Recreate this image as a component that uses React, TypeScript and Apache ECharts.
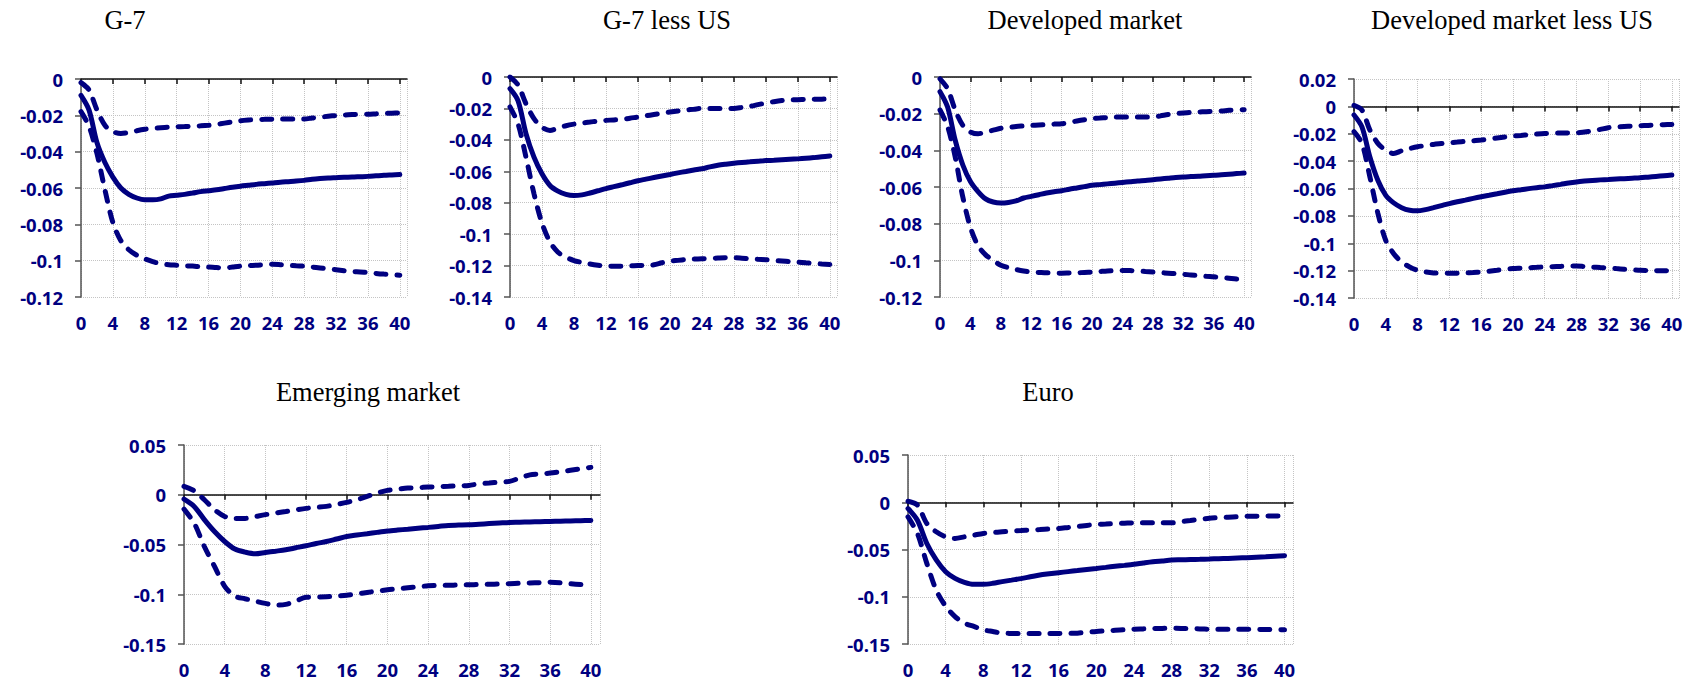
import React, { useEffect, useRef } from "react";
import * as echarts from "echarts";

const HORIZON = [0,1,2,3,4,5,6,7,8,9,10,11,12,13,14,15,16,17,18,19,20,21,22,23,24,25,26,27,28,29,30,31,32,33,34,35,36,37,38,39,40];
const X_TICKS = [0,4,8,12,16,20,24,28,32,36,40];

const TITLES = ["G-7", "G-7 less US", "Developed market", "Developed market less US", "Emerging market", "Euro"];

const G7_MID = [-0.009,-0.017,-0.035,-0.046,-0.054,-0.060,-0.0635,-0.0655,-0.0665,-0.0665,-0.066,-0.0645,-0.064,-0.0635,-0.0628,-0.062,-0.0615,-0.061,-0.0603,-0.0596,-0.059,-0.0585,-0.058,-0.0576,-0.0572,-0.0568,-0.0565,-0.0562,-0.0558,-0.0552,-0.0548,-0.0545,-0.0543,-0.0541,-0.054,-0.0538,-0.0536,-0.0533,-0.053,-0.0528,-0.0526];
const G7_UP = [-0.002,-0.006,-0.017,-0.0255,-0.029,-0.030,-0.0295,-0.0285,-0.0277,-0.0272,-0.0268,-0.0265,-0.0263,-0.0262,-0.026,-0.0258,-0.0255,-0.025,-0.0243,-0.0236,-0.023,-0.0226,-0.0223,-0.0222,-0.0221,-0.022,-0.022,-0.022,-0.022,-0.0215,-0.021,-0.0205,-0.0201,-0.0198,-0.0196,-0.0195,-0.0194,-0.0192,-0.019,-0.0188,-0.0187];
const G7_LO = [-0.018,-0.026,-0.041,-0.061,-0.079,-0.089,-0.094,-0.097,-0.099,-0.1005,-0.1017,-0.1022,-0.1025,-0.1028,-0.103,-0.1033,-0.1035,-0.1038,-0.104,-0.1035,-0.103,-0.1027,-0.1025,-0.1022,-0.102,-0.1022,-0.1025,-0.1028,-0.103,-0.1035,-0.104,-0.1045,-0.105,-0.1055,-0.106,-0.1062,-0.1065,-0.107,-0.1074,-0.1077,-0.108];

const G7XUS_MID = [-0.0074,-0.015,-0.036,-0.051,-0.0616,-0.069,-0.0726,-0.0747,-0.0754,-0.075,-0.0738,-0.0724,-0.071,-0.0698,-0.0686,-0.0673,-0.066,-0.065,-0.064,-0.063,-0.062,-0.061,-0.0601,-0.0592,-0.0584,-0.0572,-0.0562,-0.0555,-0.0549,-0.0544,-0.054,-0.0536,-0.0532,-0.053,-0.0527,-0.0524,-0.0521,-0.0517,-0.0513,-0.0508,-0.0503];
const G7XUS_UP = [0,-0.005,-0.017,-0.0265,-0.032,-0.034,-0.0325,-0.031,-0.030,-0.0293,-0.0287,-0.028,-0.0276,-0.0273,-0.027,-0.0262,-0.0255,-0.0247,-0.0239,-0.0231,-0.0223,-0.0216,-0.021,-0.0205,-0.020,-0.020,-0.020,-0.020,-0.020,-0.0194,-0.0187,-0.0176,-0.0166,-0.0157,-0.015,-0.0146,-0.0144,-0.0143,-0.0142,-0.0141,-0.014];
const G7XUS_LO = [-0.019,-0.0297,-0.051,-0.0743,-0.093,-0.105,-0.1115,-0.1147,-0.1168,-0.118,-0.119,-0.1198,-0.1204,-0.1205,-0.1204,-0.1202,-0.12,-0.1198,-0.1195,-0.1182,-0.1172,-0.1167,-0.1162,-0.1159,-0.1157,-0.1155,-0.1152,-0.115,-0.115,-0.1153,-0.1157,-0.116,-0.1163,-0.1167,-0.1171,-0.1175,-0.1178,-0.1182,-0.1186,-0.119,-0.1193];

const DM_MID = [-0.008,-0.0164,-0.0345,-0.048,-0.057,-0.0625,-0.0665,-0.0682,-0.0687,-0.0684,-0.0676,-0.066,-0.0651,-0.0642,-0.0633,-0.0626,-0.062,-0.0612,-0.0605,-0.0598,-0.0591,-0.0587,-0.0583,-0.0579,-0.0575,-0.0571,-0.0567,-0.0564,-0.056,-0.0556,-0.0552,-0.0548,-0.0545,-0.0543,-0.0541,-0.0538,-0.0536,-0.0533,-0.053,-0.0527,-0.0524];
const DM_UP = [-0.001,-0.0064,-0.018,-0.0264,-0.030,-0.031,-0.030,-0.029,-0.028,-0.0275,-0.027,-0.0267,-0.0264,-0.0262,-0.026,-0.0257,-0.0255,-0.0248,-0.024,-0.0233,-0.0227,-0.0224,-0.0221,-0.0219,-0.0218,-0.0218,-0.0218,-0.0218,-0.0218,-0.0212,-0.0205,-0.02,-0.0196,-0.0193,-0.0191,-0.0189,-0.0187,-0.0185,-0.0182,-0.018,-0.0178];
const DM_LO = [-0.018,-0.027,-0.0436,-0.0655,-0.082,-0.092,-0.097,-0.1,-0.1027,-0.104,-0.105,-0.1058,-0.1064,-0.1066,-0.1068,-0.1069,-0.107,-0.1069,-0.1068,-0.1066,-0.1064,-0.1061,-0.1058,-0.1056,-0.1055,-0.1056,-0.1058,-0.1061,-0.1064,-0.1067,-0.107,-0.1073,-0.1076,-0.108,-0.1083,-0.1087,-0.109,-0.1094,-0.1098,-0.1102,-0.1105];

const DMXUS_MID = [-0.0063,-0.015,-0.037,-0.054,-0.065,-0.0705,-0.074,-0.0759,-0.0763,-0.0754,-0.074,-0.0725,-0.071,-0.0697,-0.0685,-0.0672,-0.066,-0.0649,-0.0638,-0.0627,-0.0617,-0.0609,-0.0601,-0.0594,-0.0588,-0.0579,-0.057,-0.056,-0.0552,-0.0546,-0.0541,-0.0537,-0.0534,-0.0531,-0.0528,-0.0525,-0.0522,-0.0517,-0.0512,-0.0507,-0.0502];
const DMXUS_UP = [0.0007,-0.0027,-0.0173,-0.027,-0.032,-0.0344,-0.0324,-0.0308,-0.0295,-0.0286,-0.0278,-0.0272,-0.0266,-0.0261,-0.0256,-0.0251,-0.0246,-0.0239,-0.0231,-0.0224,-0.0217,-0.0212,-0.0207,-0.0202,-0.0198,-0.0196,-0.0195,-0.0194,-0.0193,-0.0187,-0.018,-0.0168,-0.0156,-0.0151,-0.0147,-0.0144,-0.0141,-0.0139,-0.0136,-0.0134,-0.0132];
const DMXUS_LO = [-0.0185,-0.027,-0.0515,-0.078,-0.098,-0.1076,-0.1137,-0.1173,-0.1198,-0.121,-0.1217,-0.1219,-0.122,-0.1219,-0.1217,-0.1214,-0.121,-0.1204,-0.1197,-0.119,-0.1185,-0.1182,-0.1179,-0.1176,-0.1173,-0.1171,-0.1169,-0.1167,-0.1166,-0.117,-0.1174,-0.1177,-0.118,-0.1185,-0.119,-0.1194,-0.1198,-0.1199,-0.12,-0.1201,-0.1202];

const EM_MID = [-0.0044,-0.0117,-0.025,-0.037,-0.047,-0.0546,-0.0576,-0.0593,-0.058,-0.0567,-0.0553,-0.0533,-0.0513,-0.049,-0.047,-0.0445,-0.042,-0.0405,-0.0392,-0.0378,-0.0365,-0.0355,-0.0346,-0.0337,-0.0328,-0.0318,-0.0308,-0.0305,-0.0302,-0.0296,-0.029,-0.0284,-0.0278,-0.0276,-0.0273,-0.0271,-0.0268,-0.0266,-0.0263,-0.0261,-0.0258];
const EM_UP = [0.0084,0.004,-0.005,-0.015,-0.0218,-0.0238,-0.0238,-0.0219,-0.02,-0.0184,-0.0168,-0.0152,-0.0137,-0.0127,-0.0117,-0.0097,-0.0077,-0.005,-0.0017,0.0017,0.0044,0.0056,0.0067,0.0072,0.0077,0.0081,0.0085,0.009,0.0094,0.011,0.0118,0.0126,0.0134,0.0168,0.02,0.0209,0.0218,0.0232,0.0246,0.026,0.0275];
const EM_LO = [-0.0144,-0.0285,-0.052,-0.072,-0.092,-0.102,-0.1045,-0.1069,-0.1092,-0.1109,-0.1102,-0.1069,-0.103,-0.1028,-0.1025,-0.1018,-0.101,-0.0996,-0.0982,-0.0968,-0.0955,-0.0945,-0.0935,-0.0925,-0.0915,-0.0912,-0.091,-0.0907,-0.0905,-0.0902,-0.09,-0.0897,-0.0894,-0.089,-0.0887,-0.0884,-0.088,-0.0885,-0.0895,-0.0903,-0.091];

const EURO_MID = [-0.0067,-0.019,-0.0436,-0.061,-0.0735,-0.0805,-0.0847,-0.0868,-0.0868,-0.0858,-0.084,-0.0824,-0.0808,-0.0789,-0.077,-0.0757,-0.0745,-0.0734,-0.0723,-0.0711,-0.07,-0.0689,-0.0678,-0.0668,-0.0657,-0.0643,-0.063,-0.0621,-0.0612,-0.0609,-0.0606,-0.0604,-0.0601,-0.0597,-0.0594,-0.059,-0.0587,-0.0582,-0.0577,-0.0571,-0.0566];
const EURO_UP = [0.001,-0.003,-0.0225,-0.0313,-0.0366,-0.0383,-0.0366,-0.0348,-0.033,-0.0321,-0.0313,-0.0306,-0.03,-0.0294,-0.0289,-0.0283,-0.0278,-0.0267,-0.0256,-0.0245,-0.0235,-0.0231,-0.0226,-0.0222,-0.0218,-0.0218,-0.0218,-0.0218,-0.0218,-0.0205,-0.0193,-0.0181,-0.0169,-0.0163,-0.0158,-0.0153,-0.0148,-0.0147,-0.0146,-0.0145,-0.0144];
const EURO_LO = [-0.0155,-0.033,-0.0647,-0.093,-0.11,-0.121,-0.128,-0.1314,-0.135,-0.1368,-0.1385,-0.1388,-0.139,-0.139,-0.139,-0.139,-0.139,-0.1388,-0.1385,-0.1376,-0.1367,-0.1361,-0.1355,-0.1349,-0.1343,-0.134,-0.1337,-0.1335,-0.1332,-0.1335,-0.1338,-0.134,-0.1343,-0.1343,-0.1343,-0.1343,-0.1343,-0.1345,-0.1347,-0.1348,-0.135];

const PANEL_SERIES = [
  [G7_MID, G7_UP, G7_LO],
  [G7XUS_MID, G7XUS_UP, G7XUS_LO],
  [DM_MID, DM_UP, DM_LO],
  [DMXUS_MID, DMXUS_UP, DMXUS_LO],
  [EM_MID, EM_UP, EM_LO],
  [EURO_MID, EURO_UP, EURO_LO],
];

const Y_RANGES = [
  { min: -0.12, max: 0, interval: 0.02 },
  { min: -0.14, max: 0, interval: 0.02 },
  { min: -0.12, max: 0, interval: 0.02 },
  { min: -0.14, max: 0.02, interval: 0.02 },
  { min: -0.15, max: 0.05, interval: 0.05 },
  { min: -0.15, max: 0.05, interval: 0.05 },
];

// layout (px)
const GRIDS = [
  { left: 81, top: 79, width: 326, height: 218 },
  { left: 510, top: 77, width: 327, height: 220 },
  { left: 940, top: 77, width: 311, height: 220 },
  { left: 1354, top: 79, width: 325, height: 219 },
  { left: 184, top: 445, width: 416, height: 199 },
  { left: 908, top: 455, width: 385, height: 189 },
];
const TITLE_POS = [
  { x: 125, y: 20 },
  { x: 667, y: 20 },
  { x: 1085, y: 20 },
  { x: 1512, y: 20 },
  { x: 368, y: 392 },
  { x: 1048, y: 392 },
];

const NAVY = "#000080";
const LABEL_FONT = "'Noto Sans'";

export default function App() {
  const ref = useRef<HTMLDivElement>(null);
  useEffect(() => {
    if (!ref.current) return;
    const chart = echarts.init(ref.current, undefined, { renderer: "svg" });
    const grid: any[] = [];
    const xAxis: any[] = [];
    const yAxis: any[] = [];
    const series: any[] = [];
    GRIDS.forEach((g, i) => {
      grid.push({ ...g, containLabel: false });
      xAxis.push({
        gridIndex: i,
        type: "value",
        position: "bottom",
        min: 0,
        max: 40.9,
        interval: 4,
        axisLine: { show: false, onZero: false },
        axisTick: { show: false },
        axisLabel: {
          color: NAVY,
          fontFamily: LABEL_FONT,
          fontWeight: "bold",
          fontSize: 18.5,
          margin: 16,
          formatter: (v: number) => (X_TICKS.indexOf(v) >= 0 ? String(v) : ""),
        },
        splitLine: { show: true, lineStyle: { type: "dotted", color: "#c4c4c4", width: 1 } },
      });
      xAxis.push({
        gridIndex: i,
        type: "value",
        position: "bottom",
        min: 0,
        max: 40.9,
        interval: 4,
        axisLine: { show: true, onZero: true, lineStyle: { color: "#111", width: 1.5 } },
        axisTick: { show: true, length: 5, customValues: X_TICKS, lineStyle: { color: "#111", width: 1.5 } },
        axisLabel: { show: false },
        splitLine: { show: false },
      });
      const r = Y_RANGES[i];
      yAxis.push({
        gridIndex: i,
        type: "value",
        min: r.min,
        max: r.max,
        interval: r.interval,
        axisLine: { show: true, onZero: false, lineStyle: { color: "#555", width: 1.5 } },
        axisTick: { show: true, length: 6, lineStyle: { color: "#555", width: 1.5 } },
        axisLabel: {
          color: NAVY,
          fontFamily: LABEL_FONT,
          fontWeight: "bold",
          fontSize: 18.5,
          margin: 18,
        },
        splitLine: { show: true, lineStyle: { type: "dotted", color: "#c4c4c4", width: 1 } },
      });
      const [mid, up, lo] = PANEL_SERIES[i];
      const mk = (arr: number[], dashed: boolean) => ({
        type: "line",
        xAxisIndex: i * 2,
        yAxisIndex: i,
        data: HORIZON.map((h, k) => [h, arr[k]]),
        showSymbol: false,
        symbol: "none",
        smooth: 0.3,
        lineStyle: dashed
          ? { color: NAVY, width: 5, type: [10, 11], cap: "round" }
          : { color: NAVY, width: 5, cap: "round" },
        z: 3,
      });
      series.push(mk(mid, false), mk(up, true), mk(lo, true));
    });
    const graphic = TITLES.map((t, i) => ({
      type: "text",
      x: TITLE_POS[i].x,
      y: TITLE_POS[i].y,
      style: {
        text: t,
        fill: "#000",
        font: "26.5px 'Liberation Serif'",
        textAlign: "center",
        textVerticalAlign: "middle",
      },
    }));
    chart.setOption({
      animation: false,
      backgroundColor: "#fff",
      grid,
      xAxis,
      yAxis,
      series,
      graphic,
    });
    return () => chart.dispose();
  }, []);
  return <div ref={ref} style={{ position: "absolute", left: 0, top: 0, width: 1700, height: 683 }} />;
}
